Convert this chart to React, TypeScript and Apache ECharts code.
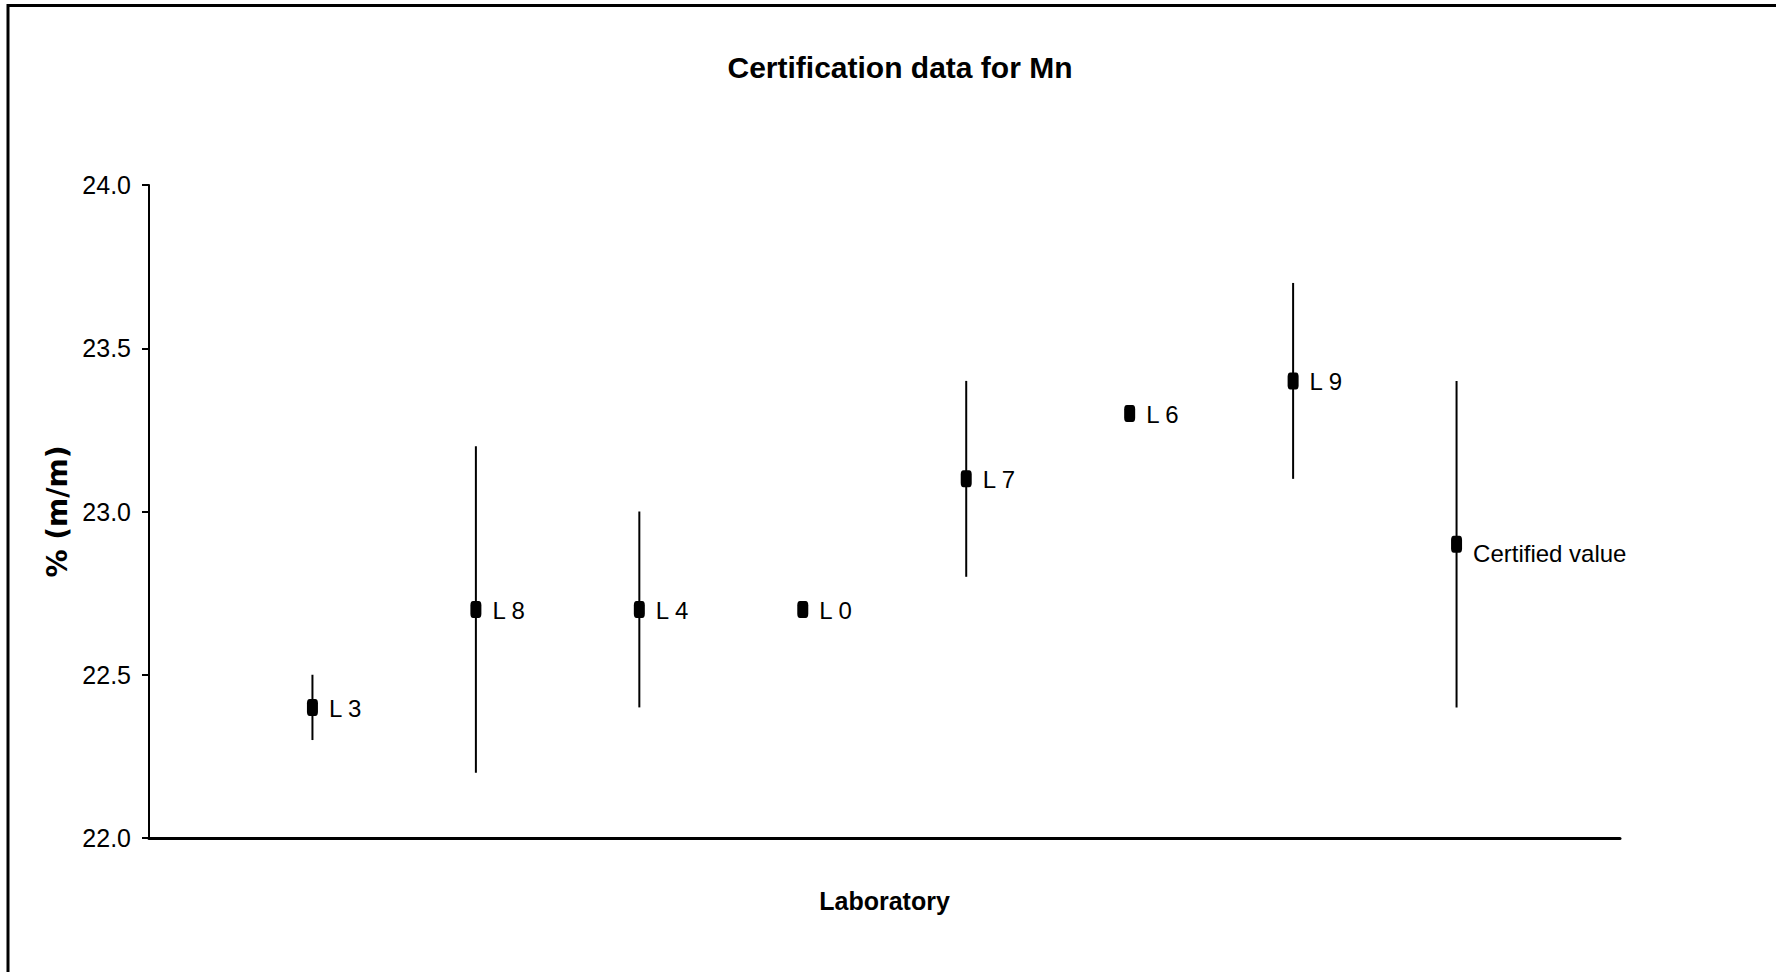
import React, { useEffect, useRef } from "react";
import * as echarts from "echarts";

const categories = ["L 3", "L 8", "L 4", "L 0", "L 7", "L 6", "L 9", "Certified value"];
const means = [22.4, 22.7, 22.7, 22.7, 23.1, 23.3, 23.4, 22.9];
const uncertainties = [0.1, 0.5, 0.3, 0, 0.3, 0, 0.3, 0.5];
const yMin = 22.0;
const yMax = 24.0;
const yInterval = 0.5;

const NARROW = "'Liberation Sans Narrow', 'Arial Narrow', 'Liberation Sans', Arial, sans-serif";

export default function App() {
  const ref = useRef<HTMLDivElement>(null);

  useEffect(() => {
    if (!ref.current) return;
    const chart = echarts.init(ref.current, undefined, { renderer: "svg" });

    const points = means.map((m, i) => ({
      value: [i + 1, m],
      label: { offset: [0, i === categories.length - 1 ? 9 : 1] },
    }));
    const bars = means.map((m, i) => [i + 1, m - uncertainties[i], m + uncertainties[i]]);

    chart.setOption({
      animation: false,
      backgroundColor: "#fff",
      title: {
        text: "Certification data for Mn",
        left: 895,
        textAlign: "center",
        top: 47,
        textStyle: { fontFamily: NARROW, fontWeight: "bold", fontSize: 30, color: "#000" },
      },
      graphic: [
        {
          type: "rect",
          shape: { x: 8, y: 5.5, width: 1800, height: 1000 },
          style: { fill: "none", stroke: "#000", lineWidth: 3 },
          silent: true,
        },
      ],
      grid: { left: 149, right: 156, top: 185, bottom: 134 },
      xAxis: {
        type: "value",
        min: 0,
        max: categories.length + 1,
        name: "Laboratory",
        nameLocation: "middle",
        nameGap: 50,
        nameTextStyle: { fontFamily: NARROW, fontWeight: "bold", fontSize: 25, color: "#000" },
        axisLine: { show: true, onZero: false, lineStyle: { color: "#000", width: 3 } },
        axisTick: { show: false },
        axisLabel: { show: false },
        splitLine: { show: false },
      },
      yAxis: {
        type: "value",
        min: yMin,
        max: yMax,
        interval: yInterval,
        name: "% (m/m)",
        nameLocation: "middle",
        nameGap: 53,
        nameRotate: 90,
        nameTextStyle: { fontFamily: "'DejaVu Sans', sans-serif", fontWeight: "bold", fontSize: 28, color: "#000" },
        axisLine: { show: true, lineStyle: { color: "#000", width: 2 } },
        axisTick: { show: true, inside: false, length: 7, lineStyle: { color: "#000", width: 2 } },
        axisLabel: {
          margin: 18,
          fontFamily: NARROW,
          fontSize: 25,
          color: "#000",
          formatter: (v: number) => v.toFixed(1),
        },
        splitLine: { show: false },
      },
      series: [
        {
          type: "custom",
          z: 1,
          encode: { x: 0, y: [1, 2] },
          data: bars,
          renderItem: (params: any, api: any) => {
            const x = api.value(0);
            const lo = api.value(1);
            const hi = api.value(2);
            if (hi - lo < 1e-9) return null;
            const p1 = api.coord([x, lo]);
            const p2 = api.coord([x, hi]);
            return {
              type: "line",
              shape: { x1: p1[0], y1: p1[1], x2: p2[0], y2: p2[1] },
              style: { stroke: "#000", lineWidth: 2 },
            };
          },
        },
        {
          type: "scatter",
          z: 2,
          symbol: "roundRect",
          symbolSize: [11, 17],
          itemStyle: { color: "#000", opacity: 1 },
          data: points,
          label: {
            show: true,
            position: "right",
            distance: 11,
            fontFamily: NARROW,
            fontSize: 24,
            color: "#000",
            formatter: (p: any) => categories[p.dataIndex],
          },
        },
      ],
    });

    return () => chart.dispose();
  }, []);

  return (
    <div
      ref={ref}
      style={{ position: "absolute", left: 0, top: 0, width: 1776, height: 972 }}
    />
  );
}
